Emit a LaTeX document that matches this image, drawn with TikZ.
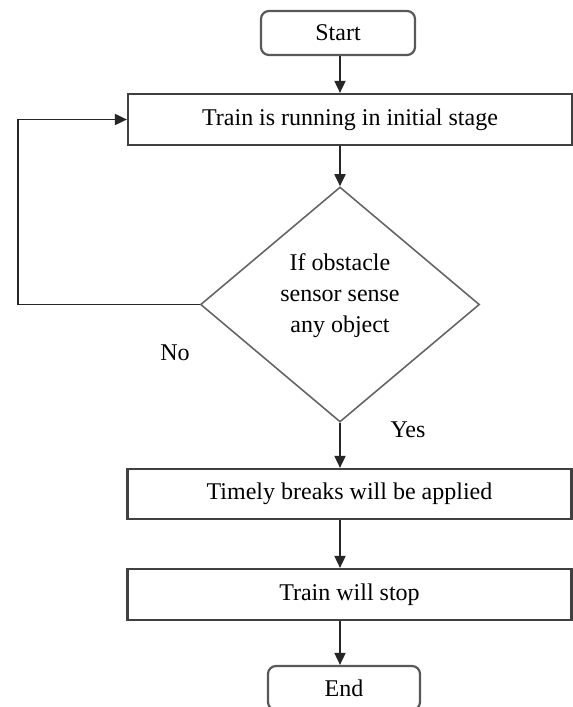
\documentclass[tikz,border=0pt]{standalone}
\usepackage{fontspec}
\setmainfont{Liberation Serif}
\usetikzlibrary{shapes.geometric,arrows.meta}
\begin{document}
\begin{tikzpicture}[x=1pt,y=-1pt,
  txt/.style={font=\fontsize{24}{31}\selectfont, inner sep=0pt},
  procbox/.style={draw=black!75, line width=2.2pt, rectangle, minimum width=444pt, minimum height=51pt, font=\fontsize{24}{31}\selectfont, inner sep=0pt},
  termbox/.style={draw=black!65, line width=2.2pt, rectangle, rounded corners=8pt, minimum height=44pt, font=\fontsize{24}{31}\selectfont, inner sep=0pt},
  decbox/.style={draw=black!60, line width=1.6pt, diamond, aspect=1.187, minimum width=279pt, minimum height=235pt, inner sep=0pt},
  arr/.style={draw=black!85, line width=1.8pt, -{Triangle[length=12pt,width=11pt]}},
  ln/.style={draw=black!80, line width=1.8pt}]
\useasboundingbox (0,0) rectangle (573,707);
\clip (0,0) rectangle (573,707);
\fill[white] (0,0) rectangle (573,707);
\node[termbox, minimum width=154pt] (start) at (338,33) {Start};
\node[procbox] (train) at (350,119.5) {Train is running in initial stage};
\node[decbox] (dia) at (340,304.5) {};
\node[txt, align=center] (diatext) at (340,296) {If obstacle\\sensor sense\\any object};
\node[procbox, minimum height=50pt] (brake) at (349.5,494) {Timely breaks will be applied};
\node[procbox] (stop) at (349.5,594.5) {Train will stop};
\node[termbox, minimum width=152pt] (end) at (344,688) {End};
\node[txt] (no) at (175,353) {No};
\node[txt] (yes) at (408,430) {Yes};
\coordinate (lp) at (18,304.5);
\draw[arr] (dia.north |- start.south) -- (dia.north |- train.north);
\draw[arr] (dia.north |- train.south) -- (dia.north);
\draw[arr] (dia.south) -- (dia.south |- brake.north);
\draw[arr] (dia.south |- brake.south) -- (dia.south |- stop.north);
\draw[arr] (dia.south |- stop.south) -- (dia.south |- end.north);
\draw[arr] (dia.west) -- (lp) |- (train.west);
\end{tikzpicture}
\end{document}
